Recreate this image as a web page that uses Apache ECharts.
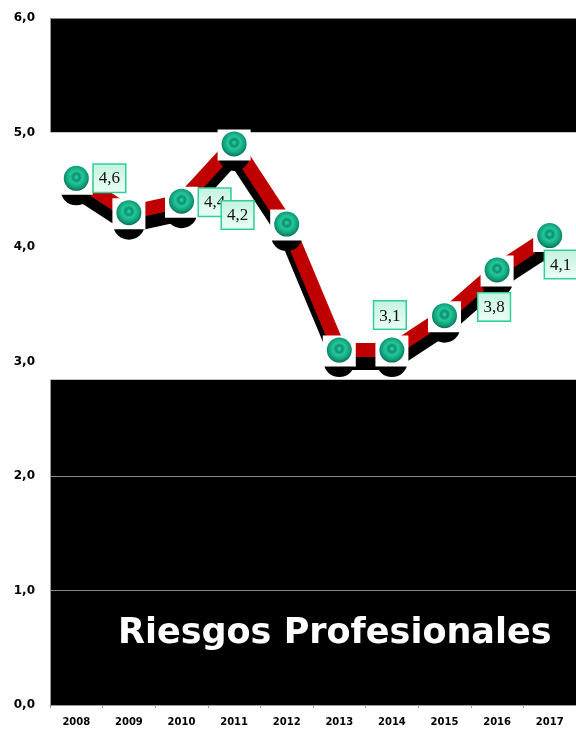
<!DOCTYPE html>
<html>
<head>
<meta charset="utf-8">
<script src="https://cdn.jsdelivr.net/npm/echarts@6/dist/echarts.min.js"></script>
<style>
html,body{margin:0;padding:0;background:#fff;}
#chart{width:576px;height:734px;}
</style>
</head>
<body>
<div id="chart"></div>
<script>
const years = ['2008','2009','2010','2011','2012','2013','2014','2015','2016','2017'];
const values = [4.6, 4.3, 4.4, 4.9, 4.2, 3.1, 3.1, 3.4, 3.8, 4.1];
const yTicks = [0, 1, 2, 3, 4, 5, 6];
const highlightRange = [2.84, 5.0];
const titleText = 'Riesgos Profesionales';

// which points show a value box, and where (styling only)
const labelPlacement = {
  0: {position: 'right', offset: [0, 0]},
  2: {position: 'right', offset: [0, 1]},
  4: {position: 'left', offset: [-16, -9]},
  6: {position: 'top', offset: [-2, -4]},
  8: {position: 'bottom', offset: [-3, 6]},
  9: {position: 'bottom', offset: [11, -2]}
};

const fmt = v => v.toFixed(1).replace('.', ',');

const markerData = values.map((v, i) => {
  const p = labelPlacement[i];
  if (!p) return {value: v, label: {show: false}};
  return {
    value: v,
    label: {
      show: true,
      position: p.position,
      offset: p.offset,
      formatter: params => fmt(params.value),
      fontFamily: 'Liberation Serif',
      fontSize: 17,
      color: '#111',
      padding: [6, 5, 4, 5],
      borderColor: '#2fcf9a',
      borderWidth: 1.5,
      backgroundColor: {
        type: 'linear', x: 0, y: 0, x2: 0, y2: 1,
        colorStops: [{offset: 0, color: '#c4f2df'}, {offset: 1, color: '#ecfff6'}]
      }
    }
  };
});

const chart = echarts.init(document.getElementById('chart'));
chart.setOption({
  animation: false,
  backgroundColor: '#fff',
  title: {
    text: titleText,
    left: 113,
    top: 611,
    textStyle: {color: '#fff', fontFamily: 'DejaVu Sans', fontWeight: 'bold', fontSize: 35}
  },
  grid: {left: 50, right: 0, top: 18, bottom: 29, show: true, backgroundColor: '#000', borderWidth: 0},
  xAxis: {
    type: 'category',
    data: years,
    boundaryGap: true,
    axisLine: {show: true, lineStyle: {color: '#999', width: 1}},
    axisTick: {show: true, length: 3, lineStyle: {color: '#999'}},
    axisLabel: {color: '#000', fontFamily: 'DejaVu Sans', fontWeight: 'bold', fontSize: 10, margin: 12},
    splitLine: {show: false}
  },
  yAxis: {
    type: 'value',
    min: yTicks[0],
    max: yTicks[yTicks.length - 1],
    interval: 1,
    axisLine: {show: true, lineStyle: {color: '#999'}},
    axisTick: {show: false},
    axisLabel: {color: '#000', fontFamily: 'DejaVu Sans', fontWeight: 'bold', fontSize: 12, margin: 15, formatter: v => fmt(v)},
    splitLine: {show: true, lineStyle: {color: '#8a8a8a', width: 1}}
  },
  series: [
    {
      type: 'line',
      data: [],
      z: 1,
      silent: true,
      markArea: {
        silent: true,
        itemStyle: {color: '#fff', opacity: 1},
        data: [[{yAxis: highlightRange[0]}, {yAxis: highlightRange[1]}]]
      }
    },
    {
      type: 'line',
      data: values,
      z: 2,
      symbol: 'none',
      lineStyle: {color: '#c00000', width: 14, opacity: 1, shadowColor: '#000', shadowBlur: 0, shadowOffsetX: 0, shadowOffsetY: 13},
      silent: true
    },
    {
      type: 'scatter',
      data: values,
      z: 3,
      symbol: 'circle',
      symbolSize: [31, 30],
      symbolOffset: [0, 12],
      itemStyle: {color: '#000', opacity: 1},
      silent: true
    },
    {
      type: 'scatter',
      data: values,
      z: 4,
      symbol: 'rect',
      symbolSize: [33, 31],
      symbolOffset: [0, 1],
      itemStyle: {color: '#fff', opacity: 1},
      silent: true
    },
    {
      type: 'scatter',
      data: markerData,
      z: 5,
      symbol: 'circle',
      symbolSize: 25,
      itemStyle: {
        opacity: 1,
        color: {
          type: 'radial', x: 0.5, y: 0.45, r: 0.55,
          colorStops: [
            {offset: 0, color: '#2bd9a8'},
            {offset: 0.25, color: '#0b8f70'},
            {offset: 0.45, color: '#25c79a'},
            {offset: 0.8, color: '#0e9c78'},
            {offset: 1, color: '#0a6e56'}
          ]
        }
      },
      silent: true
    }
  ]
});
</script>
</body>
</html>
